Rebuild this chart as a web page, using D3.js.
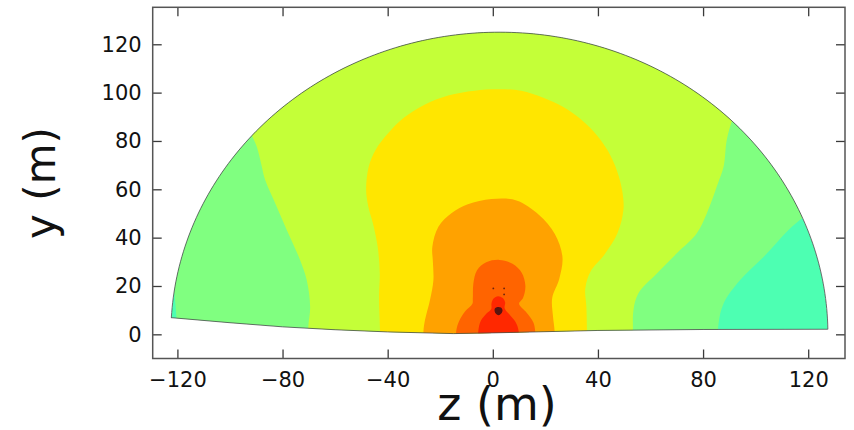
<!DOCTYPE html>
<html>
<head>
<meta charset="utf-8">
<script src="https://cdn.jsdelivr.net/npm/d3@7"></script>
<style>
  html, body { margin: 0; padding: 0; background: #fff; }
  svg { display: block; font-family: "DejaVu Sans", sans-serif; }
</style>
</head>
<body>
<svg id="chart" width="854" height="430"></svg>
<script>
// Axis ticks
const zTicks = [-120, -80, -40, 0, 40, 80, 120];
const yTicks = [0, 20, 40, 60, 80, 100, 120];

// Computational domain: circular rim (centre, radius) closed by a base edge
const rimCenter = [2.5, 0];
const rimRadius = 125;
const baseEdge = [[-122.4, 6.9], [-100, 4.8], [-80, 3.1], [-60, 1.9], [-40, 1.0], [-15, 0.3], [0, 0.6], [40, 1.6], [80, 2.0], [127.4, 2.1]];

// Level colours, lowest to highest
const levelColors = ["#4dffb2", "#80ff80", "#c4ff38", "#ffe600", "#ffa200", "#ff6400", "#ff2800", "#5a1410"];

// Super-level regions (z, y) for each level above the lowest
const greenRegion = [[-120.3, -8], [-120.3, 4], [-120.5, 9], [-120.9, 14], [-121.4, 17.5], [-125, 22], [-131, 30], [-131, 140], [125, 140], [125, 56], [120, 50.5], [117.6, 48], [112.5, 43.2], [103, 32], [94.1, 22.5], [87.8, 12.8], [85.9, 4.5], [85.5, -8]];
const yellowGreenRegion = [[-70.5, -8], [-70.2, 3.1], [-69.5, 11.4], [-70.8, 22.5], [-73.3, 30.7], [-78.4, 43.2], [-82.5, 53.5], [-86.6, 63.8], [-88, 70], [-89.8, 77.6], [-91.7, 82.5], [-95, 92], [-100, 140], [100, 140], [94, 96], [90.9, 88], [89, 80.4], [87.8, 69.3], [85.5, 62], [81.4, 50], [77.6, 41.8], [70, 33.5], [62.4, 25.2], [55.4, 17], [53.5, 10], [53.3, 2.5], [53.3, -8]];
const yellowRegion = [[-42.9, -8], [-42.9, 1.1], [-43.3, 15.6], [-43, 25.2], [-43.8, 36.2], [-45.6, 45.9], [-47.4, 53], [-48.2, 60], [-47.2, 69.4], [-44.5, 76.5], [-40, 83], [-34, 89.5], [-26, 95], [-17, 98.8], [-7, 100.8], [2, 101.4], [10.8, 100.8], [19, 98], [27, 94], [33.5, 89], [39.5, 82.5], [44, 75.5], [47.3, 67.5], [49.3, 59], [49.7, 51.5], [47.5, 42], [42.5, 33], [37.2, 26], [35.2, 19], [35.6, 11.4], [35.8, 1.8], [35.8, -8]];
const orangeRegion = [[-26.4, -8], [-26.4, 1.1], [-25.8, 5.9], [-23.9, 14.2], [-22.6, 22.5], [-22.8, 30], [-23, 36.2], [-20.7, 44.5], [-15.5, 50.3], [-9.5, 53.8], [-0.5, 56], [9, 55.4], [17.5, 49.5], [23.6, 41.5], [26.5, 32], [25.3, 23], [22.6, 15], [22.9, 7.5], [23.5, 1.5], [23.5, -8]];
const darkOrangeRegion = [[-14, -8], [-13.9, 1.5], [-12.8, 5.5], [-10.5, 9.5], [-7.8, 12.5], [-7.6, 15], [-7.4, 21], [-6, 26.5], [-2.5, 29.8], [2.5, 30.8], [7.5, 29.2], [11, 25.5], [12.4, 20], [11.5, 15], [10, 12.6], [12.8, 9], [15.4, 5], [16.1, 1.5], [16.1, -8]];
const redRegion = [[-5.6, -8], [-5.5, 1.5], [-4.6, 5.5], [-2.5, 8.5], [-0.6, 10.5], [-0.5, 12.8], [0.3, 14.8], [2, 15.8], [3.8, 15], [4.7, 13.2], [4.5, 10.8], [6.5, 8], [8.7, 5], [9.8, 1.5], [9.8, -8]];
const coreRegion = [[0.7, 9.6], [0.8, 10.7], [1.8, 11.3], [3.1, 11.1], [3.7, 10], [3.2, 8.6], [2.2, 7.9], [1.2, 8.5]];

// Small source markers
const markerPoints = [[0.2, 19], [4.3, 19], [4.3, 16.5]];

const regions = [greenRegion, yellowGreenRegion, yellowRegion, orangeRegion, darkOrangeRegion, redRegion, coreRegion];

// Layout
const svg = d3.select("#chart");
const frame = { left: 152.7, right: 845, top: 7.3, bottom: 358.5 };

const x = d3.scaleLinear().domain([-129.4, 134]).range([frame.left, frame.right]);
const y = d3.scaleLinear().domain([-10, 135.3]).range([frame.bottom, frame.top]);

// Domain outline: arc over the top, then the base edge back across
const a0 = Math.atan2(baseEdge[baseEdge.length - 1][1] - rimCenter[1], baseEdge[baseEdge.length - 1][0] - rimCenter[0]);
const a1 = Math.atan2(baseEdge[0][1] - rimCenter[1], baseEdge[0][0] - rimCenter[0]);
const arcPts = d3.range(0, 181).map(i => {
  const a = a0 + (a1 - a0) * i / 180;
  return [rimCenter[0] + rimRadius * Math.cos(a), rimCenter[1] + rimRadius * Math.sin(a)];
});
const outline = arcPts.concat(baseEdge);

const linePath = d3.line().x(d => x(d[0])).y(d => y(d[1]));
const outlinePath = linePath(outline) + "Z";

const defs = svg.append("defs");
defs.append("clipPath").attr("id", "domainClip")
  .append("path").attr("d", outlinePath);

const field = svg.append("g").attr("clip-path", "url(#domainClip)");

// Lowest level fills the whole domain
field.append("path").attr("d", outlinePath).attr("fill", levelColors[0]);

const smooth = d3.line().x(d => x(d[0])).y(d => y(d[1])).curve(d3.curveCatmullRom.alpha(0.5));
const smoothClosed = d3.line().x(d => x(d[0])).y(d => y(d[1])).curve(d3.curveCatmullRomClosed.alpha(0.5));

regions.forEach((pts, i) => {
  const closed = i === regions.length - 1;
  field.append("path")
    .attr("d", closed ? smoothClosed(pts) : smooth(pts) + "Z")
    .attr("fill", levelColors[i + 1]);
});

field.selectAll("circle.src").data(markerPoints).join("circle")
  .attr("class", "src")
  .attr("cx", d => x(d[0])).attr("cy", d => y(d[1]))
  .attr("r", 0.9).attr("fill", "#6a2210");

// Rim line
svg.append("path").attr("d", outlinePath)
  .attr("fill", "none").attr("stroke", "#4a4a4a").attr("stroke-width", 0.8);

// Axes with inward ticks on all four sides
const tickLen = 9;
function styleAxis(g) {
  g.select(".domain").remove();
  g.selectAll(".tick line").attr("stroke", "#3a3a3a").attr("stroke-width", 1.3);
  g.selectAll(".tick text").attr("fill", "#111").style("font-size", "21px").style("font-family", "DejaVu Sans, sans-serif");
}

svg.append("g").attr("transform", `translate(0,${frame.bottom})`)
  .call(d3.axisBottom(x).tickValues(zTicks).tickSize(-tickLen).tickPadding(14))
  .call(styleAxis);
svg.append("g").attr("transform", `translate(0,${frame.top})`)
  .call(d3.axisTop(x).tickValues(zTicks).tickSize(-tickLen).tickFormat(""))
  .call(styleAxis);
svg.append("g").attr("transform", `translate(${frame.left},0)`)
  .call(d3.axisLeft(y).tickValues(yTicks).tickSize(-tickLen).tickPadding(11))
  .call(styleAxis);
svg.append("g").attr("transform", `translate(${frame.right},0)`)
  .call(d3.axisRight(y).tickValues(yTicks).tickSize(-tickLen).tickFormat(""))
  .call(styleAxis);

// Frame
svg.append("rect")
  .attr("x", frame.left).attr("y", frame.top)
  .attr("width", frame.right - frame.left).attr("height", frame.bottom - frame.top)
  .attr("fill", "none").attr("stroke", "#555").attr("stroke-width", 1.5);

// Axis titles
svg.append("text")
  .attr("x", 497).attr("y", 420)
  .attr("text-anchor", "middle")
  .attr("fill", "#111")
  .style("font-size", "46px")
  .text("z (m)");

svg.append("text")
  .attr("transform", "translate(55,183) rotate(-90)")
  .attr("text-anchor", "middle")
  .attr("fill", "#111")
  .style("font-size", "42px")
  .text("y (m)");
</script>
</body>
</html>
